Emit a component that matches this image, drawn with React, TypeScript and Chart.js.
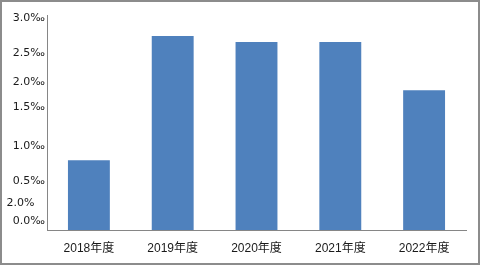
import React, { useEffect, useRef } from "react";
import { Chart, registerables } from "chart.js";

Chart.register(...registerables);

const categories = ["2018年度", "2019年度", "2020年度", "2021年度", "2022年度"];
const values = [0.972, 2.706, 2.622, 2.622, 1.951];
const tickValues = [2.958, 2.469, 2.063, 1.713, 1.168, 0.678, 0.371, 0.119];
const tickLabels = ["3.0‰", "2.5‰", "2.0‰", "1.5‰", "1.0‰", "0.5‰", "2.0%   ", "0.0‰"];

export default function App() {
  const ref = useRef<HTMLCanvasElement | null>(null);

  useEffect(() => {
    document.body.style.margin = "0";
    const canvas = ref.current;
    if (!canvas) return;
    const chart = new Chart(canvas, {
      type: "bar",
      data: {
        labels: categories,
        datasets: [
          {
            data: values,
            backgroundColor: "#4f81bd",
            borderWidth: 0,
            barPercentage: 0.5,
            categoryPercentage: 1,
          },
        ],
      },
      options: {
        animation: false,
        responsive: false,
        maintainAspectRatio: false,
        layout: { padding: { top: 13, right: 12, bottom: 0, left: 0 } },
        plugins: { legend: { display: false }, tooltip: { enabled: false } },
        scales: {
          x: {
            grid: { display: false, drawTicks: false },
            border: { display: true, color: "#868686", width: 1 },
            ticks: {
              color: "#1a1a1a",
              font: { family: "'Liberation Sans', 'Noto Sans CJK SC', sans-serif", size: 12 },
              padding: 11,
              maxRotation: 0,
              autoSkip: false,
            },
            afterFit: (s: any) => {
              s.height = 33;
            },
          },
          y: {
            min: 0,
            max: 3,
            grid: { display: false, drawTicks: false },
            border: { display: true, color: "#868686", width: 1 },
            afterBuildTicks: (s: any) => {
              s.ticks = tickValues.map((v) => ({ value: v }));
            },
            ticks: {
              autoSkip: false,
              color: "#1a1a1a",
              font: { family: "'DejaVu Sans', sans-serif", size: 11 },
              padding: 2,
              callback: (_v: any, i: number) => tickLabels[i],
            },
            afterFit: (s: any) => {
              s.width = 45;
            },
          },
        },
      },
    });
    return () => chart.destroy();
  }, []);

  return (
    <div
      style={{
        position: "absolute",
        left: 0,
        top: 0,
        width: 480,
        height: 265,
        boxSizing: "border-box",
        border: "2px solid #8c8c8c",
        background: "#fff",
      }}
    >
      <canvas ref={ref} width={476} height={261} style={{ display: "block" }} />
    </div>
  );
}
